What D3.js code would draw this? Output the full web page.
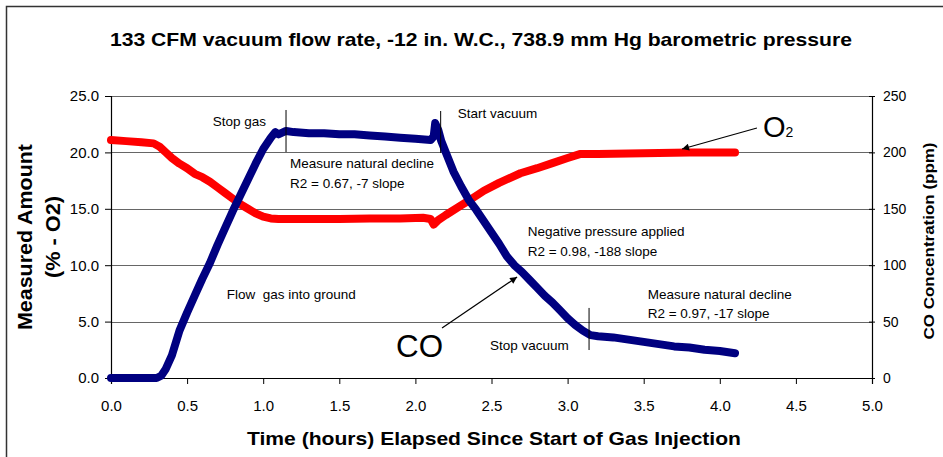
<!DOCTYPE html>
<html>
<head>
<meta charset="utf-8">
<script src="https://cdn.jsdelivr.net/npm/d3@7"></script>
<style>
    body { margin: 0; background: #fff; }
    svg text { font-family: Arial, 'Liberation Sans', sans-serif; }
</style>
</head>
<body>
<svg id="chart" width="943" height="457"></svg>
<script>
// CO concentration (ppm, right axis)
const coTime = [0.0, 0.1, 0.2, 0.3, 0.33, 0.36, 0.4, 0.45, 0.5, 0.55, 0.6, 0.65, 0.7, 0.75, 0.8, 0.85, 0.9, 0.95, 1.0, 1.05, 1.08, 1.1, 1.15, 1.2, 1.3, 1.4, 1.5, 1.6, 1.7, 1.8, 1.9, 2.0, 2.1, 2.12, 2.13, 2.15, 2.17, 2.2, 2.25, 2.3, 2.35, 2.4, 2.45, 2.5, 2.55, 2.6, 2.65, 2.7, 2.75, 2.8, 2.85, 2.9, 2.95, 3.0, 3.05, 3.1, 3.15, 3.2, 3.3, 3.4, 3.5, 3.6, 3.7, 3.8, 3.9, 4.0, 4.1];
const coPpm = [0, 0, 0, 0, 2, 8, 20, 42, 58, 73, 88, 102, 118, 133, 148, 162, 176, 190, 203, 213, 218, 216, 219, 218, 217, 217, 216, 216, 215, 214, 213, 212, 211, 214, 226, 220, 210, 200, 183, 170, 158, 149, 139, 129, 119, 108, 100, 94, 87, 80, 73, 67, 60, 53, 47, 42, 38, 37, 36, 34, 32, 30, 28, 27, 25, 24, 22];

// O2 (% , left axis)
const o2Time = [0.0, 0.1, 0.2, 0.28, 0.32, 0.36, 0.4, 0.45, 0.5, 0.55, 0.6, 0.65, 0.7, 0.75, 0.8, 0.85, 0.9, 0.95, 1.0, 1.05, 1.1, 1.3, 1.5, 1.7, 1.9, 2.05, 2.1, 2.12, 2.15, 2.2, 2.3, 2.36, 2.45, 2.55, 2.69, 2.8, 2.9, 3.0, 3.08, 3.2, 3.4, 3.6, 3.8, 4.0, 4.1];
const o2Pct = [21.1, 21.0, 20.9, 20.8, 20.5, 20.0, 19.5, 19.0, 18.6, 18.1, 17.8, 17.4, 16.9, 16.4, 15.9, 15.4, 15.0, 14.6, 14.3, 14.15, 14.1, 14.1, 14.1, 14.15, 14.15, 14.2, 14.1, 13.6, 14.0, 14.45, 15.3, 15.8, 16.6, 17.3, 18.15, 18.6, 19.05, 19.5, 19.85, 19.85, 19.9, 19.95, 20.0, 20.0, 20.0];

const xTicks = [0, 0.5, 1, 1.5, 2, 2.5, 3, 3.5, 4, 4.5, 5];
const leftTicks = [0, 5, 10, 15, 20, 25];
const rightTicks = [0, 50, 100, 150, 200, 250];

// annotation text, placed in (hours, left-axis %) units
const noteText = ['Stop gas', 'Start vacuum', 'Measure natural decline', 'R2 = 0.67, -7 slope', 'Negative pressure applied', 'R2 = 0.98, -188 slope', 'Measure natural decline', 'R2 = 0.97, -17 slope', 'Stop vacuum', 'Flow  gas into ground'];
const noteT = [0.668, 2.278, 1.176, 1.176, 2.738, 2.738, 3.526, 3.526, 2.49, 0.76];
const noteV = [22.37, 23.08, 18.62, 16.87, 12.59, 10.82, 6.98, 5.29, 2.48, 6.98];

// short vertical marker lines: time, from %, to %
const markT = [1.15, 2.166, 3.141];
const markV0 = [23.76, 23.67, 6.21];
const markV1 = [20.03, 19.95, 2.48];

const svg = d3.select('#chart');

const x = d3.scaleLinear().domain([0, 5]).range([111, 872]);
const yL = d3.scaleLinear().domain([0, 25]).range([378, 96]);
const yR = d3.scaleLinear().domain([0, 250]).range([378, 96]);

// outer frame
svg.append('rect')
    .attr('x', 6.5)
    .attr('y', 6.5)
    .attr('width', 1000)
    .attr('height', 1000)
    .attr('fill', 'none')
    .attr('stroke', '#333')
    .attr('stroke-width', 1.5);

// gridlines
svg.append('g')
    .selectAll('line')
    .data(leftTicks.filter((d) => d > 0))
    .join('line')
    .attr('x1', x(0))
    .attr('x2', x(5))
    .attr('y1', (d) => Math.round(yL(d)) + 0.5)
    .attr('y2', (d) => Math.round(yL(d)) + 0.5)
    .attr('stroke', '#666');

// axes
const fmt = d3.format('.1f');
const xAxis = svg.append('g')
    .attr('transform', `translate(0,${yL(0)})`)
    .call(d3.axisBottom(x).tickValues(xTicks).tickFormat(fmt).tickSize(6).tickPadding(16));
const leftAxis = svg.append('g')
    .attr('transform', `translate(${x(0)},0)`)
    .call(d3.axisLeft(yL).tickValues(leftTicks).tickFormat(fmt).tickSize(6).tickPadding(6));
const rightAxis = svg.append('g')
    .attr('transform', `translate(${x(5)},0)`)
    .call(d3.axisRight(yR).tickValues(rightTicks).tickSize(3).tickPadding(8));

[xAxis, leftAxis, rightAxis].forEach((g) => {
    g.select('.domain').attr('stroke', '#000').attr('stroke-width', 1.2);
    g.selectAll('.tick line').attr('stroke', '#000');
    g.selectAll('.tick text')
        .attr('fill', '#000')
        .attr('font-size', 15)
        .attr('font-family', 'Arial, Liberation Sans, sans-serif');
});
rightAxis.selectAll('.tick line').attr('x1', -3);
rightAxis.selectAll('.tick text').attr('font-size', 14);

// series lines
const lineO2 = d3.line()
    .x((d, i) => x(o2Time[i]))
    .y((d) => yL(d));
const lineCO = d3.line()
    .x((d, i) => x(coTime[i]))
    .y((d) => yR(d));

svg.append('path')
    .attr('d', lineO2(o2Pct))
    .attr('fill', 'none')
    .attr('stroke', '#ff0000')
    .attr('stroke-width', 8)
    .attr('stroke-linejoin', 'round')
    .attr('stroke-linecap', 'round');

svg.append('path')
    .attr('d', lineCO(coPpm))
    .attr('fill', 'none')
    .attr('stroke', '#000080')
    .attr('stroke-width', 8)
    .attr('stroke-linejoin', 'round')
    .attr('stroke-linecap', 'round');

// marker lines
svg.append('g')
    .selectAll('line')
    .data(markT)
    .join('line')
    .attr('x1', (d) => x(d))
    .attr('x2', (d) => x(d))
    .attr('y1', (d, i) => yL(markV0[i]))
    .attr('y2', (d, i) => yL(markV1[i]))
    .attr('stroke', '#000')
    .attr('stroke-width', 1);

// annotation labels
svg.append('g')
    .selectAll('text')
    .data(noteText)
    .join('text')
    .attr('x', (d, i) => x(noteT[i]))
    .attr('y', (d, i) => yL(noteV[i]))
    .attr('font-size', 13.5)
    .attr('fill', '#000')
    .style('white-space', 'pre')
    .text((d) => d);

// arrows
svg.append('defs')
    .append('marker')
    .attr('id', 'arr')
    .attr('viewBox', '0 0 10 10')
    .attr('refX', 10)
    .attr('refY', 5)
    .attr('markerWidth', 9)
    .attr('markerHeight', 7)
    .attr('markerUnits', 'userSpaceOnUse')
    .attr('orient', 'auto')
    .append('path')
    .attr('d', 'M0,0L10,5L0,10z')
    .attr('fill', '#000');

const arrows = [
    [2.175, 4.43, 2.668, 8.95],
    [4.244, 22.16, 3.752, 20.3],
];
svg.append('g')
    .selectAll('line')
    .data(arrows)
    .join('line')
    .attr('x1', (d) => x(d[0]))
    .attr('y1', (d) => yL(d[1]))
    .attr('x2', (d) => x(d[2]))
    .attr('y2', (d) => yL(d[3]))
    .attr('stroke', '#000')
    .attr('stroke-width', 1.2)
    .attr('marker-end', 'url(#arr)');

// series labels
svg.append('text')
    .attr('x', x(1.873))
    .attr('y', yL(1.86))
    .attr('font-size', 32)
    .attr('textLength', 47)
    .attr('lengthAdjust', 'spacingAndGlyphs')
    .text('CO');

const o2Label = svg.append('text')
    .attr('x', x(4.284))
    .attr('y', yL(21.36))
    .attr('font-size', 29);
o2Label.append('tspan').text('O');
o2Label.append('tspan').attr('font-size', 14).text('2');

// titles
svg.append('text')
    .attr('x', 110)
    .attr('y', 46)
    .attr('font-size', 19)
    .attr('font-weight', 'bold')
    .attr('textLength', 742)
    .attr('lengthAdjust', 'spacingAndGlyphs')
    .text('133 CFM vacuum flow rate, -12 in. W.C., 738.9 mm Hg barometric pressure');

svg.append('text')
    .attr('x', 494)
    .attr('y', 445)
    .attr('text-anchor', 'middle')
    .attr('font-size', 19)
    .attr('font-weight', 'bold')
    .attr('textLength', 494)
    .attr('lengthAdjust', 'spacingAndGlyphs')
    .text('Time (hours) Elapsed Since Start of Gas Injection');

const leftTitle = svg.append('g')
    .attr('transform', 'translate(0,237) rotate(-90)');
leftTitle.append('text')
    .attr('x', 0)
    .attr('y', 32)
    .attr('text-anchor', 'middle')
    .attr('font-size', 20)
    .attr('font-weight', 'bold')
    .attr('textLength', 186)
    .attr('lengthAdjust', 'spacingAndGlyphs')
    .text('Measured Amount');
leftTitle.append('text')
    .attr('x', 0)
    .attr('y', 60)
    .attr('text-anchor', 'middle')
    .attr('font-size', 20)
    .attr('font-weight', 'bold')
    .attr('textLength', 82)
    .attr('lengthAdjust', 'spacingAndGlyphs')
    .text('(% - O2)');

svg.append('text')
    .attr('transform', 'translate(934,241) rotate(-90)')
    .attr('text-anchor', 'middle')
    .attr('font-size', 15)
    .attr('font-weight', 'bold')
    .attr('textLength', 197)
    .attr('lengthAdjust', 'spacingAndGlyphs')
    .text('CO Concentration (ppm)');
</script>
</body>
</html>
